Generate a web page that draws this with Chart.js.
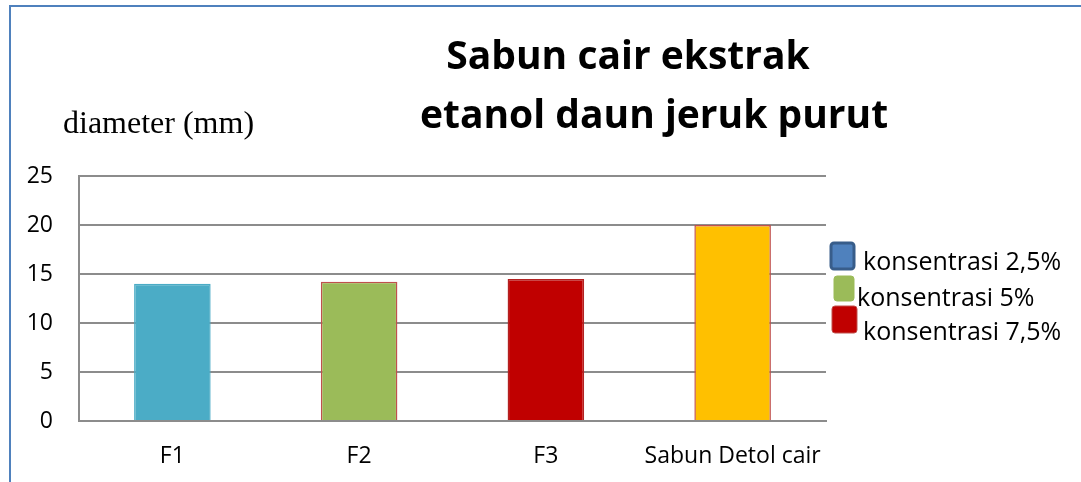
<!DOCTYPE html>
<html>
<head>
<meta charset="utf-8">
<script src="https://cdn.jsdelivr.net/npm/chart.js@4.4.1/dist/chart.umd.min.js"></script>
<style>
  html, body { margin: 0; padding: 0; background: #fff; }
  #wrap { position: relative; width: 1081px; height: 482px; }
</style>
</head>
<body>
<div id="wrap"><canvas id="grafik" width="1081" height="482"></canvas></div>
<script>
// --- DATOS ---
const kategori = ['F1', 'F2', 'F3', 'Sabun Detol cair'];
const diameter = [14, 14.2, 14.5, 20];
const warnaBatang = ['#4BACC6', '#9BBB59', '#C00000', '#FFC000'];
const garisBatang = ['#4BACC6', '#C0504D', '#B22222', '#C0504D'];
const judul = ['Sabun cair ekstrak', 'etanol daun jeruk purut'];
const labelSumbuY = 'diameter (mm)';
const legendaTeks = ['konsentrasi 2,5%', 'konsentrasi 5%', 'konsentrasi 7,5%'];
const legendaWarna = ['#4F81BD', '#9BBB59', '#C00000'];
const legendaGaris = ['#385D8A', '#9BBB59', '#C0504D'];

// --- TEKS TAMBAHAN: judul, label sumbu, legenda, bingkai ---
const hiasan = {
    id: 'hiasan',
    afterDraw(chart) {
        const c = chart.ctx;
        c.save();
        // bingkai biru
        c.strokeStyle = '#4F81BD'; c.lineWidth = 2;
        c.beginPath(); c.moveTo(10, 482); c.lineTo(10, 6); c.lineTo(1081, 6); c.stroke();

        c.fillStyle = '#000';
        c.textAlign = 'center'; c.textBaseline = 'middle';
        c.font = 'bold 39px "Open Sans"';
        c.fillText(judul[0], 628, 58);
        c.fillText(judul[1], 654, 117);

        c.textAlign = 'left';
        c.font = '32px "Liberation Serif"';
        c.fillText(labelSumbuY, 63, 125);

        // legenda
        const kotak = [[831, 243, 23, 26], [834, 276, 20, 25], [832, 306, 25, 27]];
        const teksX = [863, 857, 863];
        const teksY = [263, 299, 333];
        c.font = '25px "Open Sans"';
        legendaTeks.forEach((t, i) => {
            const [x, y, w, h] = kotak[i];
            c.fillStyle = legendaWarna[i];
            c.strokeStyle = legendaGaris[i];
            c.lineWidth = i === 0 ? 3 : 1;
            c.beginPath(); c.roundRect(x, y, w, h, 3); c.fill(); c.stroke();
            c.fillStyle = '#000';
            c.fillText(t, teksX[i], teksY[i]);
        });
        c.restore();
    }
};

new Chart(document.getElementById('grafik').getContext('2d'), {
    type: 'bar',
    data: {
        labels: kategori,
        datasets: [{
            data: diameter,
            backgroundColor: warnaBatang,
            borderColor: garisBatang,
            borderWidth: 1.5,
            categoryPercentage: 1,
            barPercentage: 0.41
        }]
    },
    options: {
        responsive: false,
        animation: false,
        layout: { padding: { left: 0, right: 255, top: 176, bottom: 0 } },
        plugins: { legend: { display: false }, tooltip: { enabled: false } },
        scales: {
            x: {
                grid: { display: false, drawTicks: false },
                border: { display: true, color: '#8c8c8c', width: 2 },
                ticks: { color: '#000', font: { family: 'Open Sans', size: 23 }, padding: 22, maxRotation: 0 },
                afterFit: (s) => { s.height = 61; }
            },
            y: {
                min: 0, max: 25,
                ticks: { stepSize: 5, color: '#000', font: { family: 'Open Sans', size: 23 }, padding: 26 },
                grid: { color: '#8c8c8c', lineWidth: 2, drawTicks: false },
                border: { display: true, color: '#8c8c8c', width: 2 },
                afterFit: (s) => { s.width = 79; }
            }
        }
    },
    plugins: [hiasan]
});
</script>
</body>
</html>
